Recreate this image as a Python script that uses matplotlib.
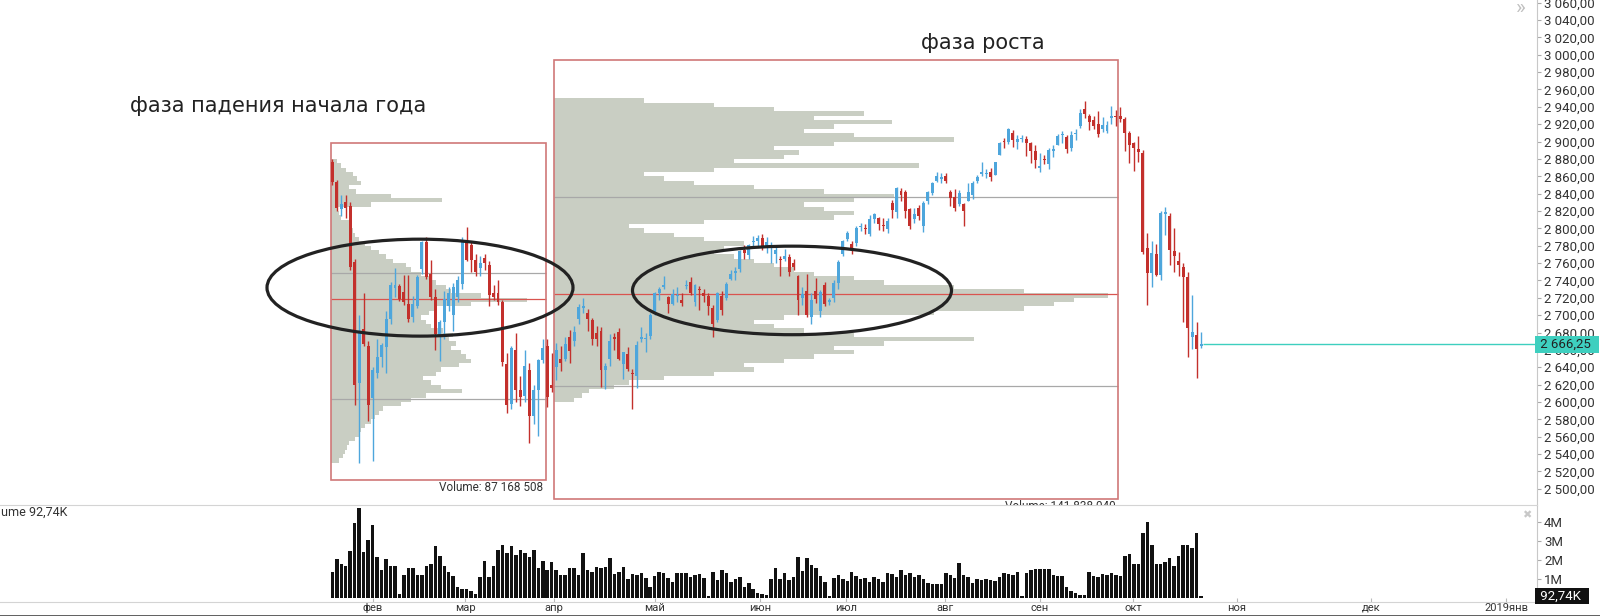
import matplotlib
matplotlib.use("Agg")
import matplotlib.pyplot as plt
from matplotlib.patches import Rectangle, Ellipse
import matplotlib.transforms as mtransforms

plt.rcParams['font.family'] = ['Roboto', 'DejaVu Sans']

# ---------------- data ----------------
opens = [
2876,2853,2822,2830,2826,2761,2622,2684,2664,2605,
2633,2652,2663,2696,2731,2734,2727,2713,2698,2711,
2753,2784,2748,2721,2675,2692,2710,2700,2721,2736,
2787,2781,2764,2754,2766,2758,2726,2725,2715,2644,
2598,2660,2614,2607,2637,2584,2614,2648,2664,2620,
2640,2650,2650,2675,2670,2696,2708,2702,2694,2679,
2682,2637,2649,2675,2681,2644,2655,2633,2630,2672,
2673,2676,2702,2725,2733,2721,2713,2722,2718,2734,
2738,2715,2730,2726,2722,2708,2694,2722,2720,2742,
2749,2753,2775,2769,2784,2785,2789,2779,2780,2770,
2765,2765,2767,2760,2745,2720,2728,2698,2728,2705,
2735,2715,2720,2737,2770,2788,2782,2783,2802,2801,
2793,2811,2812,2804,2799,2829,2819,2843,2842,2822,
2811,2824,2803,2832,2841,2855,2857,2860,2842,2836,
2828,2828,2832,2838,2855,2863,2863,2865,2862,2885,
2901,2900,2910,2900,2903,2903,2898,2889,2870,2880,
2874,2889,2896,2907,2905,2893,2909,2918,2937,2930,
2925,2920,2915,2912,2927,2929,2930,2926,2910,2898,
2892,2887,2777,2749,2771,2746,2817,2814,2774,2762,
2756,2744,2675,2677,2664]
highs = [
2880,2856,2838,2838,2830,2765,2700,2725,2670,2640,
2672,2668,2705,2738,2754,2736,2746,2746,2722,2746,
2786,2790,2763,2730,2695,2728,2732,2737,2745,2790,
2802,2786,2770,2768,2770,2762,2735,2740,2718,2656,
2665,2680,2630,2660,2645,2620,2650,2672,2672,2656,
2668,2665,2675,2683,2688,2713,2720,2707,2697,2688,
2686,2645,2678,2680,2685,2658,2663,2638,2670,2686,
2680,2702,2727,2733,2745,2722,2730,2733,2725,2741,
2744,2736,2734,2730,2725,2712,2727,2728,2738,2752,
2756,2775,2781,2782,2791,2792,2794,2790,2784,2778,
2768,2776,2770,2765,2746,2732,2748,2725,2743,2729,
2738,2720,2740,2764,2787,2797,2786,2803,2806,2805,
2815,2818,2813,2812,2812,2833,2848,2846,2844,2824,
2823,2827,2832,2843,2853,2865,2864,2864,2844,2845,
2844,2829,2852,2855,2862,2876,2868,2869,2877,2899,
2904,2916,2913,2907,2908,2906,2899,2896,2887,2885,
2893,2896,2909,2912,2908,2912,2915,2937,2947,2932,
2930,2935,2928,2924,2941,2936,2940,2928,2912,2900,
2906,2890,2795,2785,2782,2820,2825,2818,2800,2773,
2760,2750,2723,2692,2681]
lows = [
2850,2820,2814,2812,2752,2597,2530,2665,2578,2532,
2628,2640,2633,2690,2721,2716,2712,2692,2692,2708,
2748,2742,2718,2660,2647,2673,2705,2682,2715,2730,
2762,2750,2745,2745,2752,2711,2718,2712,2642,2587,
2592,2600,2595,2600,2553,2575,2561,2645,2594,2612,
2625,2636,2647,2645,2665,2690,2703,2682,2666,2664,
2617,2615,2642,2660,2648,2627,2636,2592,2616,2669,
2658,2672,2700,2718,2730,2703,2712,2715,2710,2730,
2723,2710,2706,2715,2700,2675,2692,2700,2718,2740,
2740,2750,2765,2765,2780,2780,2775,2772,2760,2760,
2745,2762,2745,2752,2700,2712,2698,2690,2714,2698,
2711,2712,2715,2730,2768,2786,2770,2780,2797,2793,
2791,2806,2798,2797,2795,2812,2812,2831,2812,2799,
2806,2810,2796,2828,2838,2853,2852,2852,2826,2820,
2826,2803,2831,2834,2852,2860,2858,2855,2861,2884,
2893,2897,2894,2892,2899,2883,2875,2869,2865,2874,
2868,2882,2896,2898,2887,2889,2902,2916,2927,2913,
2915,2905,2911,2910,2920,2918,2922,2889,2875,2866,
2876,2770,2712,2733,2745,2740,2792,2758,2750,2745,
2692,2652,2661,2628,2662]
closes = [
2853,2823,2828,2823,2755,2619,2682,2667,2596,2637,
2652,2666,2696,2735,2735,2719,2715,2696,2713,2744,
2784,2744,2721,2678,2692,2719,2725,2733,2740,2784,
2764,2764,2750,2760,2760,2723,2721,2715,2646,2596,
2662,2614,2606,2641,2584,2614,2648,2662,2606,2616,
2660,2645,2667,2659,2681,2709,2711,2696,2673,2673,
2637,2642,2670,2673,2650,2657,2638,2632,2666,2675,
2674,2700,2725,2730,2733,2713,2724,2722,2714,2735,
2726,2735,2729,2722,2710,2690,2725,2706,2736,2748,
2751,2774,2772,2781,2785,2789,2778,2784,2781,2775,
2763,2768,2750,2756,2718,2724,2700,2717,2719,2727,
2713,2717,2737,2761,2785,2795,2775,2800,2803,2799,
2811,2817,2805,2803,2808,2821,2847,2838,2820,2803,
2817,2814,2829,2842,2852,2860,2859,2855,2835,2823,
2841,2820,2842,2852,2859,2865,2864,2859,2876,2898,
2899,2915,2902,2903,2904,2898,2889,2879,2872,2879,
2890,2891,2906,2907,2891,2907,2910,2933,2932,2922,
2918,2909,2919,2919,2929,2928,2926,2910,2896,2893,
2888,2773,2749,2772,2746,2818,2819,2775,2768,2758,
2744,2685,2681,2661,2666.25]
volumes_m = [
1.38,2.05,1.79,1.65,2.47,3.95,4.70,2.43,3.04,3.83,
2.17,1.47,2.05,1.65,1.68,0.21,1.21,1.59,1.59,1.21,
1.21,1.65,1.79,2.73,2.20,1.70,1.38,1.16,0.60,0.48,
0.46,0.39,0.20,1.09,1.94,1.09,1.65,2.52,2.78,2.38,
2.73,2.26,2.52,2.34,2.17,2.50,1.59,1.96,1.47,1.86,
1.47,1.21,1.21,1.56,1.59,1.21,2.34,1.47,1.38,1.61,
1.56,1.61,2.08,1.24,1.38,1.61,0.98,1.26,1.21,1.33,
1.03,0.56,1.16,1.38,1.30,1.03,0.86,1.30,1.30,1.33,
1.09,1.18,1.24,1.03,0.08,1.35,0.94,1.47,1.30,0.86,
0.98,1.09,0.60,0.81,0.46,0.25,0.21,0.16,0.98,1.56,
0.98,1.33,0.94,1.09,2.17,1.42,2.08,1.73,1.56,1.16,
0.86,0.11,1.03,1.21,0.98,0.91,1.38,1.16,0.98,1.03,
0.86,1.09,1.02,0.86,1.30,1.26,1.09,1.45,1.21,1.30,
1.09,1.21,0.98,0.77,0.74,0.72,0.72,1.33,1.21,1.03,
1.82,1.21,1.09,0.77,0.98,0.94,0.98,0.94,0.91,1.09,
1.30,1.26,1.20,1.35,0.11,1.30,1.47,1.52,1.54,1.52,
1.50,1.21,1.16,1.16,0.60,0.39,0.25,0.16,0.16,1.38,
1.16,1.09,1.26,1.21,1.33,1.21,1.16,2.20,2.30,1.80,
1.80,3.40,4.00,2.80,1.80,1.80,1.90,2.10,1.70,2.20,
2.80,2.80,2.60,3.40,0.09274]

# volume profiles (price bins of 5 points, relative volume)
profile1_start = 2530
profile1 = [8,12,14,16,18,24,28,30,34,40, 44,48,52,70,80,95,131,110,100,92,
            105,110,128,140,135,130,120,125,118,122, 112,100,95,90,98,105,140,196,150,120,
            115,105,98,90,80,75,62,55,48,40, 34,28,24,22,20,18,10,8,6,40,
            111,60,25,18,30,26,22,15,10,6]
profile2_start = 2600
profile2 = [20,28,35,60,75,110,160,200,190,230, 260,300,280,330,420,300,250,220,200,230,
            380,470,500,520,554,470,400,330,300,260, 240,220,200,180,160,170,190,150,120,90,
            75,150,280,300,270,250,300,340,270,200, 140,110,90,160,365,180,230,245,220,280,
            400,300,250,280,338,260,310,220,160,90]
profile_step = 5
box1_levels = {"vah": 2748.2, "poc": 2718.6, "val": 2603.4}
box2_levels = {"vah": 2836.0, "poc": 2724.9, "val": 2618.4}
box1_volume_text = "Volume: 87 168 508"
box2_volume_text = "Volume: 141 838 040"
last_price = 2666.25
last_volume_text = "92,74K"
volume_title_visible = "ume 92,74K"

month_labels = ["фев", "мар", "апр", "май", "июн", "июл", "авг", "сен", "окт", "ноя", "дек", "2019янв"]
price_ticks = list(range(2500, 3061, 20))
volume_ticks = [1, 2, 3, 4]

# ---------------- layout ----------------
W, H = 1600, 616
X0, DX = 332.3, 4.478          # pixel of first bar, pixels per bar
AX_RIGHT = 1537
def px2bar(px):
    return (px - X0) / DX

fig = plt.figure(figsize=(W / 100, H / 100), dpi=100)
fig.patch.set_facecolor("white")

ax = fig.add_axes([0, 1 - 505 / H, AX_RIGHT / W, 505 / H])
ax2 = fig.add_axes([0, 1 - 602 / H, AX_RIGHT / W, 97 / H])
xlim = (px2bar(0), px2bar(AX_RIGHT))
ax.set_xlim(*xlim)
ax2.set_xlim(*xlim)
ax.set_ylim(2481.3, 3063.1)
ax2.set_ylim(-0.21, 4.87)

RED = "#c3302c"
BLUE = "#4ea6dc"
BOXC = "#d07878"
PROF = "#c9cec3"
CYAN = "#3ecfbf"

# ---------------- volume profiles (own axes sharing price scale) ----------------
def add_profile(left_px, right_px, start, vals):
    pa = fig.add_axes([left_px / W, 1 - 505 / H, (right_px - left_px) / W, 505 / H], sharey=ax)
    pa.set_zorder(0)
    centers = [start + profile_step * (k + 0.5) for k in range(len(vals))]
    pa.barh(centers, vals, height=profile_step, left=0, color=PROF, linewidth=0)
    pa.set_xlim(0, right_px - left_px)
    pa.axis("off")
    return pa

add_profile(331, 545.7, profile1_start, profile1)
add_profile(554, 1118, profile2_start, profile2)
ax.set_zorder(1)
ax.patch.set_visible(False)
ax.set_ylim(2481.3, 3063.1)

# boxes and levels
for (l_px, r_px, p_lo, p_hi, lv, txt, ty) in [
        (331, 545.7, 2509.6, 2898.3, box1_levels, box1_volume_text, 2501.5),
        (554, 1118, 2488.0, 2994.0, box2_levels, box2_volume_text, 2479.0)]:
    l, r = px2bar(l_px), px2bar(r_px)
    ax.add_patch(Rectangle((l, p_lo), r - l, p_hi - p_lo, fill=False, ec=BOXC, lw=1.2, zorder=3))
    ax.hlines([lv["vah"], lv["val"]], l, r, color="#a8a8a8", lw=0.9, zorder=2)
    ax.hlines(lv["poc"], l, r, color="#d9544f", lw=0.9, zorder=2)
    t = ax.text(r - 0.6, ty, txt, ha="right", va="center", fontsize=8.5, color="#333333", zorder=4)
    t.set_clip_on(True)

# candles
n = len(closes)
xs = list(range(n))
for i in xs:
    o, h, lo, c = opens[i], highs[i], lows[i], closes[i]
    col = BLUE if c >= o else RED
    ax.vlines(i, lo, h, color=col, lw=1.0, zorder=5)
    bot = min(o, c)
    ht = max(abs(c - o), 1.2)
    ax.bar(i, ht, bottom=bot, width=0.66, color=col, linewidth=0, zorder=6)

# last price line
ax.hlines(last_price, n - 0.6, xlim[1], color=CYAN, lw=1.0, zorder=4)

# ellipses
ax.add_patch(Ellipse((px2bar(420), 2731.7), px2bar(573) - px2bar(267), 111.7,
                     fill=False, ec="#222222", lw=2.3, zorder=7, clip_on=False))
ax.add_patch(Ellipse((px2bar(792), 2728.5), px2bar(951.5) - px2bar(632.5), 102,
                     fill=False, ec="#222222", lw=2.3, zorder=7, clip_on=False))

# annotations
ax.text(px2bar(130), 2940.5, "фаза падения начала года", fontsize=15, color="#222222",
        family=["DejaVu Sans"], ha="left", va="center", zorder=8)
ax.text(px2bar(921), 3014.0, "фаза роста", fontsize=15, color="#222222",
        family=["DejaVu Sans"], ha="left", va="center", zorder=8)

# price axis formatting
def fmt_price(v):
    return f"{v:,.2f}".replace(",", " ").replace(".", ",")
ax.yaxis.tick_right()
ax.set_yticks(price_ticks)
ax.set_yticklabels([fmt_price(v) for v in price_ticks])
ax.tick_params(axis="y", direction="out", length=3, width=0.8, color="#aaaaaa",
               labelsize=9.5, labelcolor="#333333", pad=2)
ax.set_xticks([])
for s in ["top", "left"]:
    ax.spines[s].set_visible(False)
ax.spines["right"].set_color("#c8c8c8")
ax.spines["bottom"].set_color("#d4d4d4")

trans = mtransforms.blended_transform_factory(ax.transAxes, ax.transData)
ax.text(1.0, last_price, " " + fmt_price(last_price) + "  ", transform=trans, ha="left", va="center",
        fontsize=9.5, color="#222222", zorder=20, clip_on=False,
        bbox=dict(boxstyle="square,pad=0.12", fc=CYAN, ec="none"))
fig.text(1521 / W, 1 - 8 / H, "»", fontsize=15, color="#c0c0c0", ha="center", va="center")

# volume panel
ax2.bar(xs, volumes_m, width=0.78, color="#111111", linewidth=0)
ax2.yaxis.tick_right()
ax2.set_yticks(volume_ticks)
ax2.set_yticklabels([f"{v}M" for v in volume_ticks])
ax2.tick_params(axis="y", direction="out", length=3, width=0.8, color="#aaaaaa",
                labelsize=9.5, labelcolor="#333333", pad=2)
month_pos = [px2bar(p) for p in [373, 465, 554, 655, 760, 846, 945, 1040, 1133, 1237, 1371, 1506]]
ax2.set_xticks(month_pos)
ax2.set_xticklabels(month_labels)
ax2.tick_params(axis="x", direction="in", length=3, width=0.8, color="#bbbbbb",
                labelsize=8, labelcolor="#333333", pad=0.5)
for s in ["top", "left"]:
    ax2.spines[s].set_visible(False)
ax2.spines["right"].set_color("#c8c8c8")
ax2.spines["bottom"].set_color("#d4d4d4")
ax2.patch.set_visible(False)

trans2 = mtransforms.blended_transform_factory(ax2.transAxes, ax2.transData)
ax2.text(1.0, volumes_m[-1], " " + last_volume_text + "  ", transform=trans2, ha="left", va="center",
         fontsize=9.5, color="white", zorder=20, clip_on=False,
         bbox=dict(boxstyle="square,pad=0.12", fc="#111111", ec="none"))
fig.text(1 / W, 1 - 512 / H, volume_title_visible, fontsize=9, color="#333333",
         ha="left", va="center")
fig.text(1527 / W, 1 - 515 / H, "✖", fontsize=8, color="#c8c8c8", ha="center", va="center")

# bottom frame line
fig.add_artist(plt.Line2D([0, 1], [0.5 / H, 0.5 / H], color="#444444", lw=1.2))

fig.savefig("out.png", dpi=100, facecolor="white")
